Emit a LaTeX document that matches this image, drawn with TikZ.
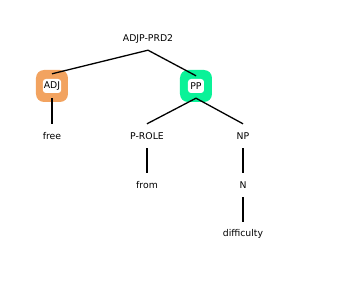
\documentclass[tikz,border=0pt]{standalone}
\usepackage{fontspec}
\setmainfont{DejaVu Sans}
\definecolor{adjorange}{RGB}{242,163,96}
\definecolor{ppgreen}{RGB}{10,242,152}
\tikzset{
    word/.style={minimum height=24pt, inner sep=0pt, font=\fontsize{9.3}{11}\selectfont},
    catbox/.style={minimum size=32pt, inner sep=0pt, rounded corners=8pt},
    catlabel/.style={fill=white, rounded corners=3pt, minimum width=16pt, minimum height=14pt, inner sep=1pt, font=\fontsize{9.3}{11}\selectfont},
    edge/.style={line width=1.3pt}
}
\begin{document}
\begin{tikzpicture}[x=1pt, y=-1pt]
    \useasboundingbox (0,0) rectangle (360,305);
    % root and its two children
    \node[word, minimum height=22pt] (root) at (148,39) {ADJP-PRD2};
    \node[catbox, fill=adjorange] (adj) at (52,86) {};
    \node[catlabel] (adjtext) at (adj) {ADJ};
    \node[catbox, fill=ppgreen] (pp) at (196,86) {};
    \node[catlabel] (pptext) at (pp) {PP};
    % leaves
    \node[word] (free) at (52,136) {free};
    \node[word] (prole) at (147,136) {P-ROLE};
    \node[word] (np) at (243,136) {NP};
    \node[word] (from) at (147,185) {from};
    \node[word] (n) at (243,185) {N};
    \node[word] (difficulty) at (243,234) {difficulty};
    % branches
    \draw[edge] (root.south) -- ([yshift=-4pt]adj.north);
    \draw[edge] (root.south) -- ([yshift=-6pt]pp.north);
    \draw[edge] ([yshift=4pt]adj.south) -- (free.north);
    \draw[edge] ([yshift=4pt]pp.south) -- (prole.north);
    \draw[edge] ([yshift=4pt]pp.south) -- (np.north);
    \draw[edge] (prole.south) -- (from.north);
    \draw[edge] (np.south) -- (n.north);
    \draw[edge] (n.south) -- (difficulty.north);
\end{tikzpicture}
\end{document}
